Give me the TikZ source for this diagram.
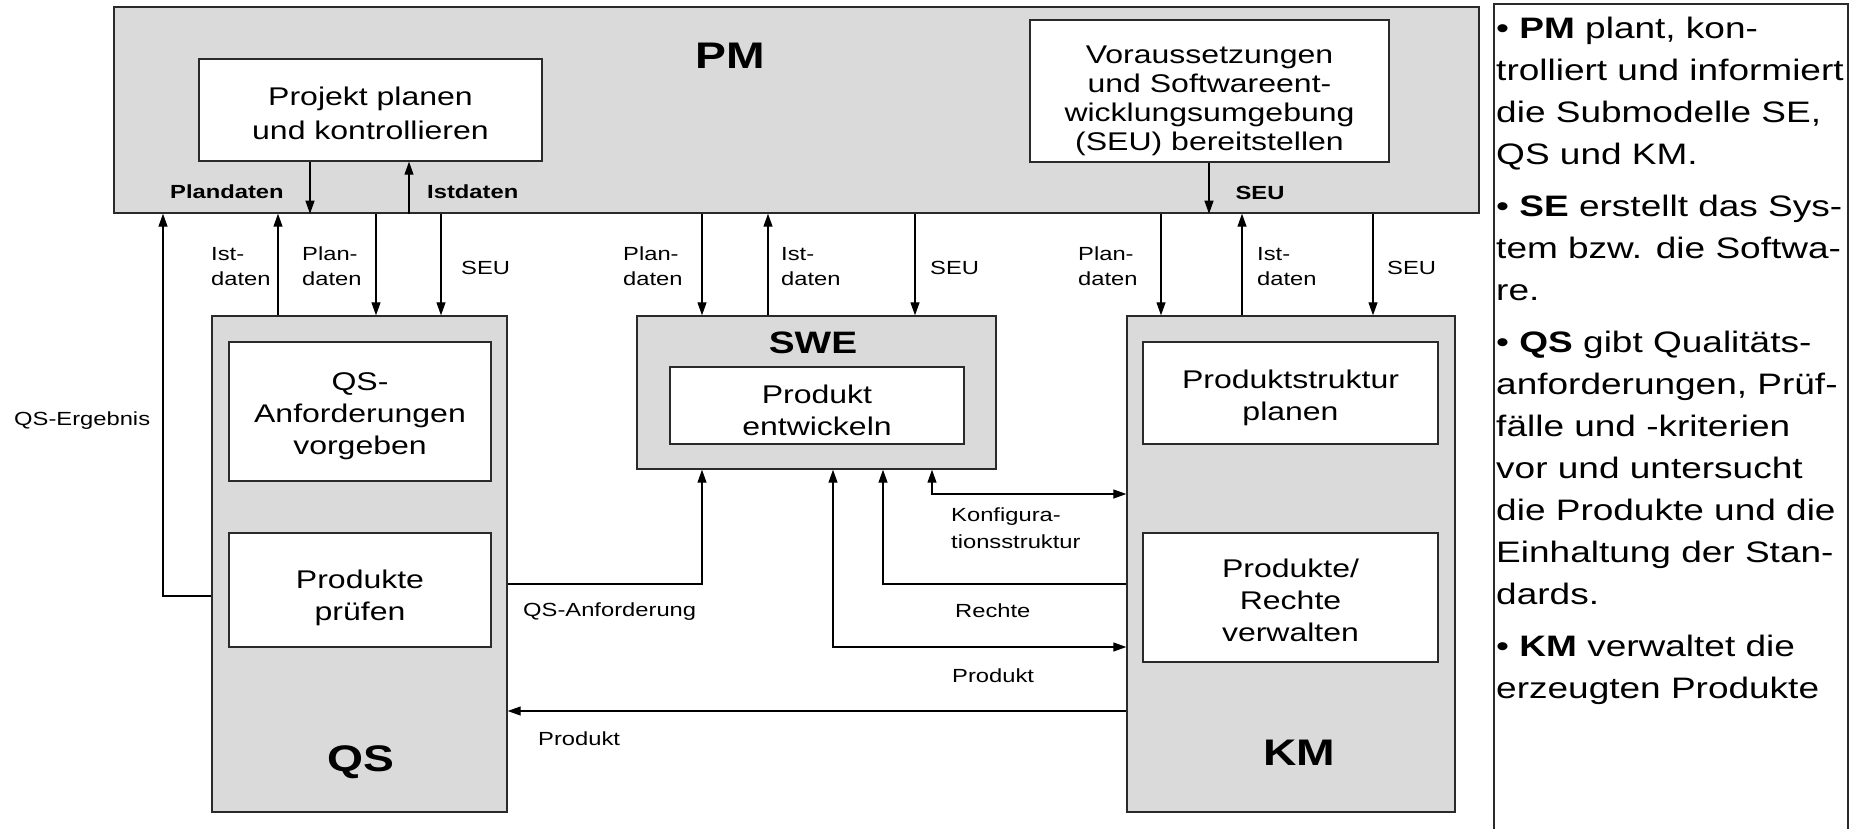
\documentclass[tikz,border=0pt]{standalone}
\usepackage{fontspec}
\setmainfont[FakeStretch=1.25]{Liberation Sans}
\usetikzlibrary{arrows.meta}
\definecolor{boxgray}{HTML}{DADADA}
\definecolor{edgecol}{HTML}{2A2A2A}
\newcommand\dgBox{\fontsize{25.6}{32}\selectfont}
\newcommand\dgLbl{\fontsize{19}{25}\selectfont}
\newcommand\dgLblB{\bfseries\fontsize{19}{25}\selectfont}
\newcommand\dgBig{\bfseries\fontsize{37}{40}\selectfont}
\newcommand\dgSwe{\bfseries\fontsize{31}{34}\selectfont}
\newcommand\dgPanel{\fontsize{29.6}{42}\selectfont}
\begin{document}
\begin{tikzpicture}[x=1pt,y=-1pt,
  gbox/.style={draw=edgecol, line width=1.4pt, fill=boxgray, inner sep=0pt},
  wbox/.style={draw=edgecol, line width=1.4pt, fill=white, inner sep=0pt},
  btxt/.style={inner sep=0pt, align=center, font=\dgBox},
  lbl/.style={inner sep=0pt, align=left, font=\dgLbl},
  lblb/.style={inner sep=0pt, font=\dgLblB},
  big/.style={inner sep=0pt, font=\dgBig},
  arr/.style={draw=black, line width=1.2pt, -{Triangle[length=13pt,width=9pt]}},
  arrtwo/.style={draw=black, line width=1.2pt, {Triangle[length=13pt,width=9pt]}-{Triangle[length=13pt,width=9pt]}}
]
\useasboundingbox (0,0) rectangle (1857,828);

% big boxes
\node[gbox, minimum width=1365pt, minimum height=206pt] (pm) at (796.5,110) {};
\node[gbox, minimum width=295pt, minimum height=496pt] (qs) at (359.5,564) {};
\node[gbox, minimum width=359pt, minimum height=153pt] (swe) at (816.5,392.5) {};
\node[gbox, minimum width=328pt, minimum height=496pt] (km) at (1291,564) {};

% inner boxes
\node[wbox, minimum width=343pt, minimum height=102pt] (proj) at (370.5,110) {};
\node[wbox, minimum width=359pt, minimum height=142pt] (vor) at (1209.5,91) {};
\node[wbox, minimum width=262pt, minimum height=139pt] (qsanf) at (360,411.5) {};
\node[wbox, minimum width=262pt, minimum height=114pt] (pruef) at (360,590) {};
\node[wbox, minimum width=294pt, minimum height=77pt] (entw) at (817,405.5) {};
\node[wbox, minimum width=295pt, minimum height=102pt] (pstr) at (1290.5,393) {};
\node[wbox, minimum width=295pt, minimum height=129pt] (pverw) at (1290.5,597.5) {};

% inner box texts
\node[btxt, font=\fontsize{25.6}{34}\selectfont] (projt) at (370.5,113) {Projekt planen\\und kontrollieren};
\node[btxt, font=\fontsize{25.6}{29}\selectfont] (vort) at (1209.5,101) {Voraussetzungen\\und Softwareent-\\wicklungsumgebung\\(SEU) bereitstellen};
\node[btxt] (qsanft) at (360,416.5) {QS-\\Anforderungen\\vorgeben};
\node[btxt] (prueft) at (360,598) {Produkte\\prüfen};
\node[btxt] (entwt) at (817,410.5) {Produkt\\entwickeln};
\node[btxt] (pstrt) at (1290.5,398) {Produktstruktur\\planen};
\node[btxt] (pverwt) at (1290.5,600.5) {Produkte/\\Rechte\\verwalten};

% big labels
\node[big] (pmlbl) at (730,56) {PM};
\node[big] (qslbl) at (361,762) {QS};
\node[big] (kmlbl) at (1299,753) {KM};
\node[inner sep=0pt, font=\dgSwe] (swelbl) at (813,343) {SWE};

% bold labels in PM
\node[lblb, anchor=west] (lplan) at (170,192) {Plandaten};
\node[lblb, anchor=west] (list) at (427,192) {Istdaten};
\node[lblb] (lseu) at (1260,193) {SEU};

% column / row coordinates
\coordinate (xQE) at (163,0);
\coordinate (xQI) at (278,0);
\coordinate (xPA) at (310,0);
\coordinate (xQP) at (376,0);
\coordinate (xPB) at (409,0);
\coordinate (xQS) at (441,0);
\coordinate (xSP) at (702,0);
\coordinate (xSI) at (768,0);
\coordinate (xPR) at (833,0);
\coordinate (xRE) at (883,0);
\coordinate (xSS) at (915,0);
\coordinate (xKO) at (932,0);
\coordinate (xKP) at (1161,0);
\coordinate (xVO) at (1209,0);
\coordinate (xKI) at (1242,0);
\coordinate (xKS) at (1373,0);
\coordinate (yKO) at (0,494);
\coordinate (yQA) at (0,584);
\coordinate (yQE) at (0,596);
\coordinate (yPR) at (0,647);
\coordinate (yPB) at (0,711);

% connectors inside PM
\draw[arr] (proj.south -| xPA) -- (pm.south -| xPA);
\draw[arr] (pm.south -| xPB) -- (proj.south -| xPB);
\draw[arr] (vor.south -| xVO) -- (pm.south -| xVO);

% PM <-> QS
\draw[arr] (qs.west |- yQE) -- (xQE |- yQE) -- (pm.south -| xQE);
\draw[arr] (qs.north -| xQI) -- (pm.south -| xQI);
\draw[arr] (pm.south -| xQP) -- (qs.north -| xQP);
\draw[arr] (pm.south -| xQS) -- (qs.north -| xQS);
% PM <-> SWE
\draw[arr] (pm.south -| xSP) -- (swe.north -| xSP);
\draw[arr] (swe.north -| xSI) -- (pm.south -| xSI);
\draw[arr] (pm.south -| xSS) -- (swe.north -| xSS);
% PM <-> KM
\draw[arr] (pm.south -| xKP) -- (km.north -| xKP);
\draw[arr] (km.north -| xKI) -- (pm.south -| xKI);
\draw[arr] (pm.south -| xKS) -- (km.north -| xKS);

% lower connectors
\draw[arr] (qs.east |- yQA) -- (xSP |- yQA) -- (swe.south -| xSP);
\draw[arrtwo] (swe.south -| xPR) -- (xPR |- yPR) -- (km.west |- yPR);
\draw[arr] (km.west |- yQA) -- (xRE |- yQA) -- (swe.south -| xRE);
\draw[arrtwo] (swe.south -| xKO) -- (xKO |- yKO) -- (km.west |- yKO);
\draw[arr] (km.west |- yPB) -- (qs.east |- yPB);

% connector labels
\node[lbl, anchor=west] (l1) at (211,266.5) {Ist-\\daten};
\node[lbl, anchor=west] (l2) at (302,266.5) {Plan-\\daten};
\node[lbl, anchor=west] (l3) at (461,268) {SEU};
\node[lbl, anchor=west] (l4) at (623,266.5) {Plan-\\daten};
\node[lbl, anchor=west] (l5) at (781,266.5) {Ist-\\daten};
\node[lbl, anchor=west] (l6) at (930,268) {SEU};
\node[lbl, anchor=west] (l7) at (1078,266.5) {Plan-\\daten};
\node[lbl, anchor=west] (l8) at (1257,266.5) {Ist-\\daten};
\node[lbl, anchor=west] (l9) at (1387,268) {SEU};
\node[lbl, anchor=west] (l10) at (14,420.5) {QS-Ergebnis};
\node[lbl, anchor=west] (l11) at (523,612) {QS-Anforderung};
\node[lbl, anchor=west, font=\fontsize{19}{27}\selectfont] (l12) at (951,528) {Konfigura-\\tionsstruktur};
\node[lbl, anchor=west] (l13) at (955,611) {Rechte};
\node[lbl, anchor=west] (l14) at (952,676) {Produkt};
\node[lbl, anchor=west] (l15) at (538,739) {Produkt};

% right panel
\node[draw=edgecol, line width=1.4pt, minimum width=354pt, minimum height=840pt, inner sep=0pt] (panel) at (1671,424) {};
\node[inner sep=0pt, anchor=north west, align=left, font=\dgPanel] (ptext) at (1496,16.8) {%
\textbullet\ \textbf{PM} plant, kon-\\
trolliert und informiert\\
die Submodelle SE,\\
QS und KM.\\[10pt]
\textbullet\ \textbf{SE} erstellt das Sys-\\
tem bzw. die Softwa-\\
re.\\[10pt]
\textbullet\ \textbf{QS} gibt Qualitäts-\\
anforderungen, Prüf-\\
fälle und -kriterien\\
vor und untersucht\\
die Produkte und die\\
Einhaltung der Stan-\\
dards.\\[10pt]
\textbullet\ \textbf{KM} verwaltet die\\
erzeugten Produkte};
\end{tikzpicture}
\end{document}
